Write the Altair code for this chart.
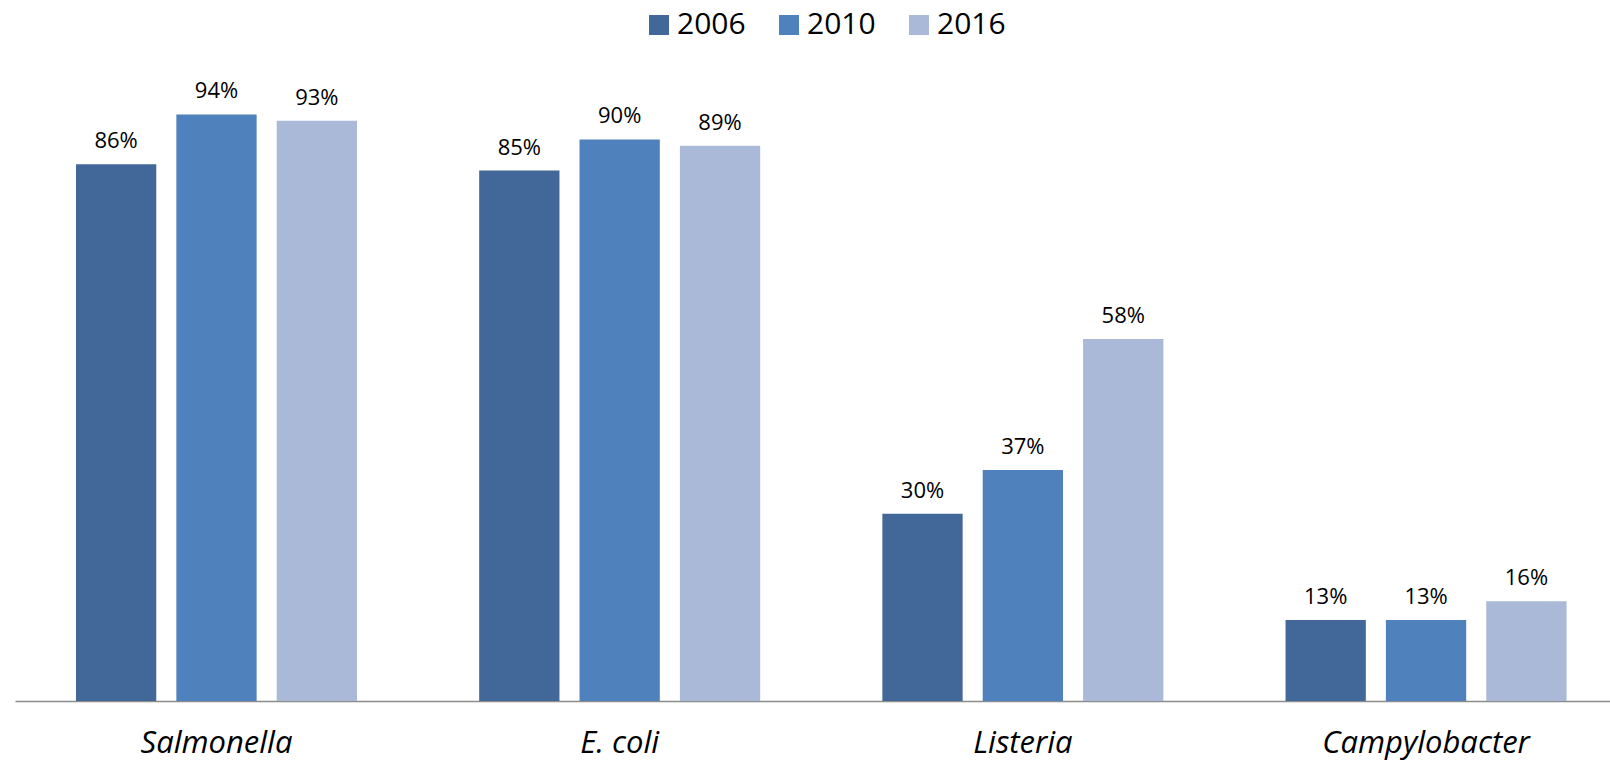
import altair as alt
import pandas as pd

# Share of cases, by pathogen and survey year
pathogens = ["Salmonella", "E. coli", "Listeria", "Campylobacter"]
years = ["2006", "2010", "2016"]
values_2006 = [86, 85, 30, 13]
values_2010 = [94, 90, 37, 13]
values_2016 = [93, 89, 58, 16]
year_colors = ["#416898", "#4F81BD", "#AAB9D7"]

rows = []
for yr, vals in zip(years, [values_2006, values_2010, values_2016]):
    for p, v in zip(pathogens, vals):
        rows.append({"pathogen": p, "year": yr, "value": v, "label": f"{v}%"})
df = pd.DataFrame(rows)

FONT = "Open Sans"

x_enc = alt.X(
    "pathogen:N",
    sort=pathogens,
    title=None,
    scale=alt.Scale(paddingInner=0.303, paddingOuter=0.1295, align=0.584),
    axis=alt.Axis(
        labelAngle=0,
        labelFont=FONT,
        labelFontSize=31,
        labelFontStyle="italic",
        labelColor="#000000",
        labelBaseline="alphabetic",
        labelPadding=51,
        labelLimit=0,
        ticks=False,
        tickSize=0,
        domainColor="#8C8C8C",
        domainWidth=1.5,
    ),
)
y_enc = alt.Y("value:Q", scale=alt.Scale(domain=[0, 100]), axis=None)
offset_enc = alt.XOffset(
    "year:N", sort=years, scale=alt.Scale(paddingInner=0.2, paddingOuter=0)
)

bars = alt.Chart(df).mark_bar().encode(
    x=x_enc,
    xOffset=offset_enc,
    y=y_enc,
    color=alt.Color(
        "year:N",
        sort=years,
        scale=alt.Scale(domain=years, range=year_colors),
        legend=alt.Legend(
            title=None,
            orient="none",
            direction="horizontal",
            legendX=629,
            legendY=-67,
            symbolType="square",
            symbolSize=400,
            symbolStrokeWidth=0,
            symbolOpacity=1,
            labelFont=FONT,
            labelFontSize=30,
            labelColor="#000000",
            labelOffset=3,
            columnPadding=28,
            padding=0,
        ),
    ),
)

labels = alt.Chart(df).mark_text(
    font=FONT, fontSize=22, color="#000000", baseline="alphabetic", dy=-16
).encode(
    x=alt.X("pathogen:N", sort=pathogens),
    xOffset=alt.XOffset("year:N", sort=years),
    y="value:Q",
    text="label:N",
)

chart = (
    alt.layer(bars, labels)
    .properties(
        width=1595,
        height=624,
        background="#FFFFFF",
        autosize=alt.AutoSizeParams(type="none"),
        padding={"left": 15, "top": 77, "right": 0, "bottom": 61},
    )
    .configure_view(stroke=None, strokeWidth=0)
)

chart.save("out.html", embed_options={"renderer": "svg", "actions": False})
